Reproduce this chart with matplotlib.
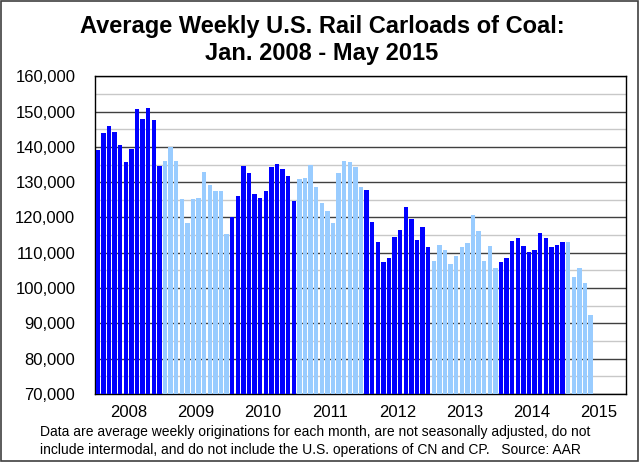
import matplotlib
matplotlib.use("Agg")
import matplotlib.pyplot as plt
from matplotlib.patches import Rectangle
from matplotlib.ticker import FuncFormatter, MultipleLocator

plt.rcParams['font.family'] = ['Liberation Sans', 'DejaVu Sans']

years = ['2008', '2009', '2010', '2011', '2012', '2013', '2014', '2015']

v2008 = [139200, 143900, 145800, 144300, 140600, 135800, 139400, 150800, 147900, 150900, 147500, 134700]
v2009 = [136100, 139900, 136000, 125200, 118400, 125200, 125500, 132800, 129100, 127500, 127600, 115300]
v2010 = [120000, 126200, 134700, 132600, 126600, 125600, 127600, 134400, 135100, 133800, 131700, 124700]
v2011 = [130800, 131300, 134800, 128700, 124200, 121800, 118400, 132600, 136000, 135600, 134400, 128700]
v2012 = [127700, 118600, 113200, 107500, 108500, 114600, 116500, 122900, 119700, 113600, 117300, 111600]
v2013 = [107800, 112200, 110800, 106800, 109000, 111600, 112800, 120800, 116300, 107700, 112000, 105800]
v2014 = [107500, 108500, 113400, 114100, 111900, 110300, 110800, 115700, 114300, 111700, 112100, 113100]
v2015 = [113200, 103100, 105600, 101500, 92500]

series = [v2008, v2009, v2010, v2011, v2012, v2013, v2014, v2015]
dark = '#0000FF'
light = '#99CCFF'

fig = plt.figure(figsize=(6.4, 4.62), dpi=100)
ax = fig.add_axes([0.148, 0.147, 0.830, 0.688])

pos = 0
for k, vals in enumerate(series):
    c = dark if k % 2 == 0 else light
    xs = list(range(pos, pos + len(vals)))
    ax.bar(xs, vals, width=0.78, color=c, edgecolor='none', zorder=3)
    pos += len(vals)

ax.set_ylim(70000, 160000)
ax.set_xlim(-0.55, 94.3)
ax.yaxis.set_major_locator(MultipleLocator(10000))
ax.yaxis.set_minor_locator(MultipleLocator(5000))
ax.yaxis.set_major_formatter(FuncFormatter(lambda v, p: f'{int(v):,}'))
ax.grid(axis='y', which='major', color='#404040', lw=1.0, zorder=1)
ax.grid(axis='y', which='minor', color='#c8c8c8', lw=1.0, zorder=1)
ax.tick_params(axis='y', which='both', length=0, labelsize=12, pad=14)
ax.set_xticks([5.5 + 12 * k for k in range(len(years))])
ax.set_xticklabels(years, fontsize=12)
ax.tick_params(axis='x', length=0, pad=8)
for s in ax.spines.values():
    s.set_color('black')
    s.set_linewidth(1.0)

fig.text(0.503, 0.943, 'Average Weekly U.S. Rail Carloads of Coal:', ha='center', va='center',
         fontsize=17, fontweight='bold')
fig.text(0.503, 0.885, 'Jan. 2008 - May 2015', ha='center', va='center',
         fontsize=17, fontweight='bold')
fig.text(0.062, 0.064, 'Data are average weekly originations for each month, are not seasonally adjusted, do not',
         ha='left', va='center', fontsize=10)
fig.text(0.062, 0.027, 'include intermodal, and do not include the U.S. operations of CN and CP.   Source: AAR',
         ha='left', va='center', fontsize=10)

fig.patches.append(Rectangle((0.002, 0.003), 0.995, 0.994, transform=fig.transFigure,
                             fill=False, edgecolor='#404040', lw=1.2))

fig.savefig('out.png', dpi=100)
